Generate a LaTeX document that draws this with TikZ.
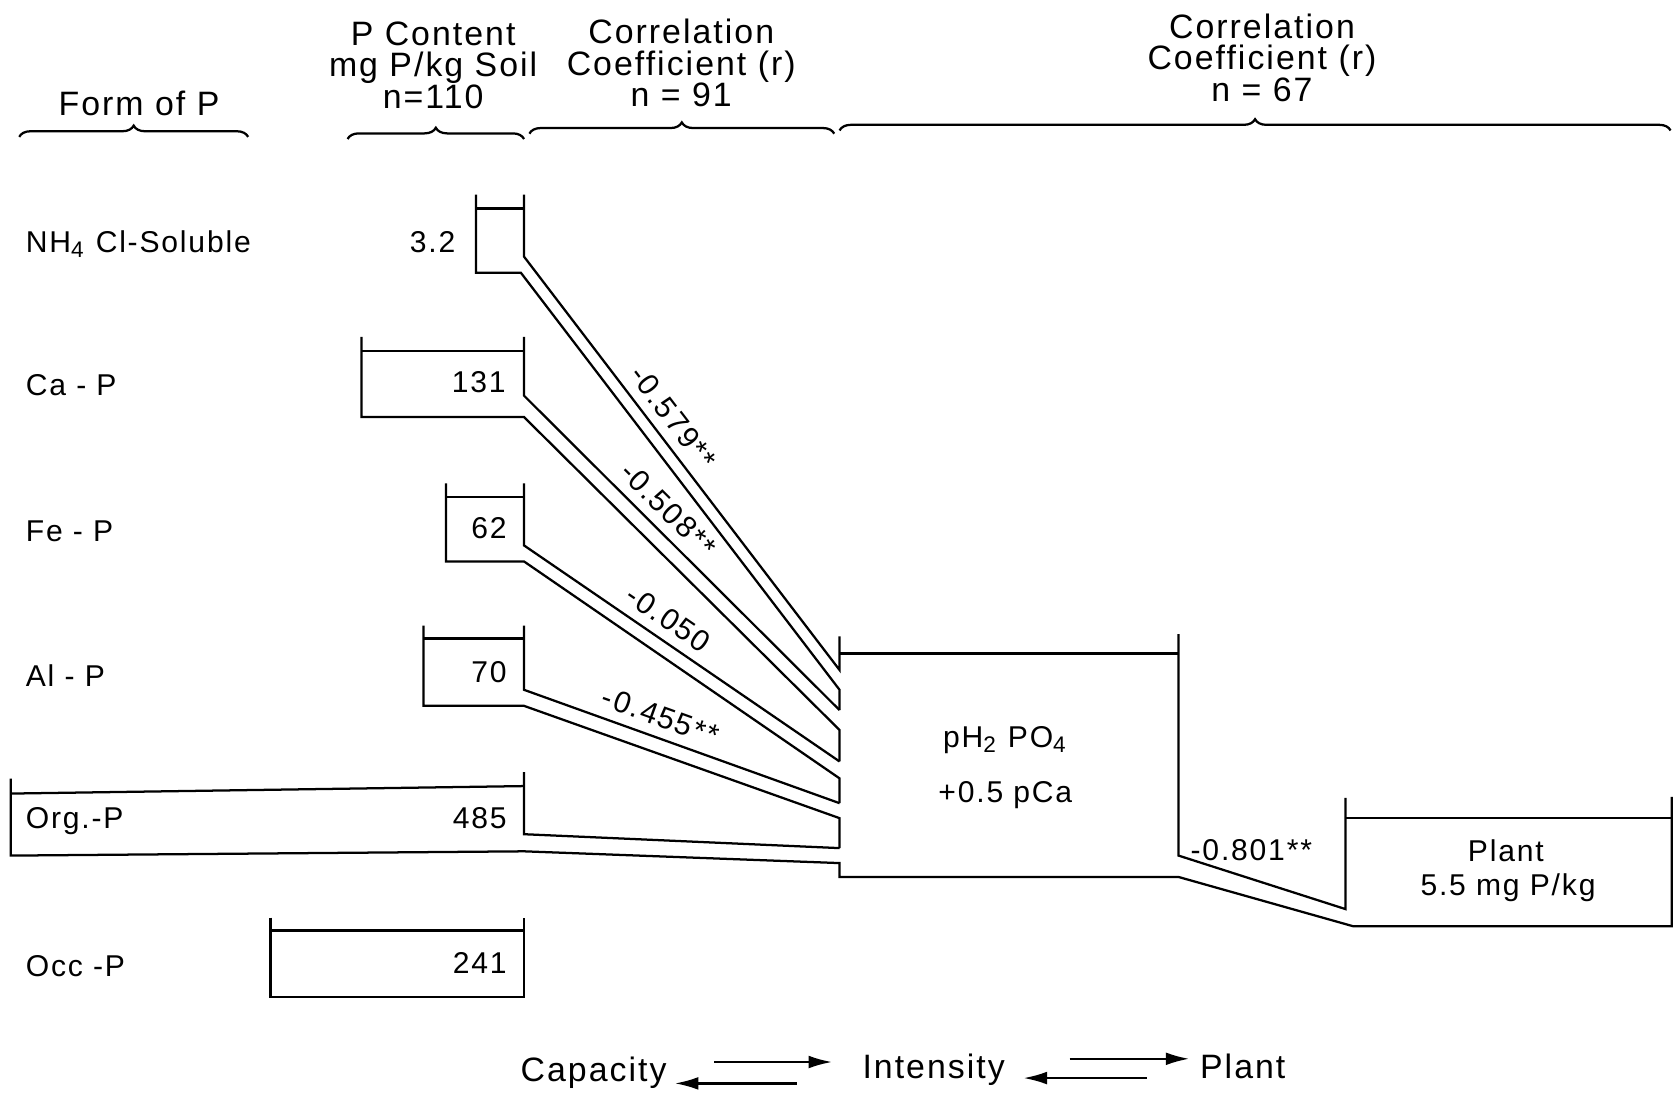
\documentclass[tikz,border=0pt]{standalone}
\usepackage{fontspec}
\setmainfont{Liberation Sans}[LetterSpace=6]
\usetikzlibrary{arrows.meta,decorations.pathreplacing}

\begin{document}
\begin{tikzpicture}[
  x=0.01cm, y=-0.01cm,
  every node/.style={font=\fontsize{8}{9}\selectfont, inner sep=1pt},
  hdr/.style  ={font=\fontsize{9}{8.4}\selectfont, align=center},
  lbl/.style  ={anchor=west},
  val/.style  ={anchor=east},
  rcoef/.style={sloped, above=1.5pt, pos=#1},
  wall/.style ={line width=0.6pt, line join=miter},
  brc/.style  ={decorate, decoration={brace, amplitude=3pt}, line width=0.6pt},
  arr/.style  ={-{Latex[length=2.2mm,width=1.2mm]}, line width=0.6pt}
]
\useasboundingbox (0,0) rectangle (1568,1025);

%% ---- Headers -------------------------------------------------------
\node[hdr] (hform)  at (130,97)  {Form of P};
\node[hdr] (hcont)  at (405,61)  {P Content\\mg P/kg Soil\\n=110};
\node[hdr] (hcor1)  at (637,59)  {Correlation\\Coefficient (r)\\n = 91};
\node[hdr] (hcor2)  at (1180,54) {Correlation\\Coefficient (r)\\n = 67};

\draw[brc] (18,128)  -- (232,128);
\draw[brc] (325,130) -- (490,130);
\draw[brc] (495,125) -- (780,125);
\draw[brc] (785,122) -- (1562,122);

%% ---- Forms of P (left column) --------------------------------------
\node[lbl] (fnh)  at (20,228) {NH\textsubscript{4} Cl-Soluble};
\node[lbl] (fca)  at (20,360) {Ca - P};
\node[lbl] (ffe)  at (20,497) {Fe - P};
\node[lbl] (fal)  at (20,632) {Al - P};
\node[lbl] (forg) at (20,768) {Org.-P};
\node[lbl] (focc) at (20,903) {Occ -P};

% contents
\node[val] (vnh)  at (430,226) {3.2};
\node[val] (vca)  at (477,357) {131};
\node[val] (vfe)  at (478,494) {62};
\node[val] (val)  at (478,628) {70};
\node[val] (vorg) at (478,765) {485};
\node[val] (vocc) at (478,900) {241};

%% ---- Boxes and channels --------------------------------------------
% NH4Cl
\draw[wall] (445,195) -- (490,195);
\draw[wall] (490,182) -- (490,240) -- node[rcoef=.42] {-0.579**} (785,626.5) -- (785,595);
\draw[wall] (445,182) -- (445,255) -- (487,255) -- (785,645) -- (785,664);
% Ca
\draw[wall] (338,328) -- (490,328);
\draw[wall] (490,315) -- (490,370) -- node[rcoef=.41] {-0.508**} (785,664);
\draw[wall] (338,315) -- (338,390) -- (490,390) -- (785,682.6) -- (785,712);
% Fe
\draw[wall] (417,465) -- (490,465);
\draw[wall] (490,452) -- (490,510) -- node[rcoef=.42] {-0.050} (785,712);
\draw[wall] (417,452) -- (417,525) -- (490,525) -- (785,727.8) -- (785,751);
% Al
\draw[wall] (396,597) -- (490,597);
\draw[wall] (490,585) -- (490,645) -- node[rcoef=.41] {-0.455**} (785,751);
\draw[wall] (396,585) -- (396,660) -- (490,660) -- (785,765) -- (785,793);
% Org
\draw[wall] (10,742) -- (490,735);
\draw[wall] (490,722) -- (490,780) -- (785,793);
\draw[wall] (10,728) -- (10,800) -- (490,796) -- (785,807) -- (785,820)
            -- (1102,820) -- (1265,866) -- (1563,866) -- (1563,745);
% Occ
\draw[wall] (253,870) -- (490,870);
\draw[wall] (253,858) -- (253,932) -- (490,932) -- (490,858);

%% ---- Intensity and plant -------------------------------------------
\draw[wall] (785,611) -- (1102,611);
\draw[wall] (1102,593) -- (1102,800) -- (1258,850) -- (1258,746);
\draw[wall] (1258,765) -- (1563,765);

\node (ipot)  at (940,692)  {pH\textsubscript{2} PO\textsubscript{4}};
\node (ica)   at (940,743)  {+0.5 pCa};
\node (rplt)  at (1170,795) {-0.801**};
\node (pname) at (1408,795) {Plant};
\node (pcont) at (1410,830) {5.5 mg P/kg};

%% ---- Capacity / intensity / plant ----------------------------------
\node[hdr] (tcap) at (555,1003)  {Capacity};
\node[hdr] (tint) at (873,1000)  {Intensity};
\node[hdr] (tplt) at (1162,997)  {Plant};

\coordinate (c1a) at (668,993);  \coordinate (c1b) at (778,993);
\coordinate (c2a) at (745,1013); \coordinate (c2b) at (631,1013);
\coordinate (c3a) at (1000,990); \coordinate (c3b) at (1112,990);
\coordinate (c4a) at (1072,1008);\coordinate (c4b) at (957,1008);
\draw[arr] (c1a) -- (c1b);
\draw[arr] (c2a) -- (c2b);
\draw[arr] (c3a) -- (c3b);
\draw[arr] (c4a) -- (c4b);

\end{tikzpicture}
\end{document}
